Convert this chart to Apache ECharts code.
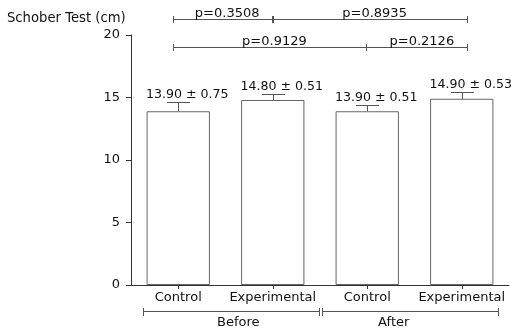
<!DOCTYPE html>
<html><head><meta charset="utf-8">
<script src="https://cdn.jsdelivr.net/npm/echarts@6/dist/echarts.min.js"></script>
<style>html,body{margin:0;padding:0;background:#fff}#c{width:511px;height:328px}</style>
</head><body><div id="c"></div>
<script>
// ---- data ----
const categories = ['Control', 'Experimental', 'Control', 'Experimental'];
const groups = ['Before', 'After'];
const means = [13.90, 14.80, 13.90, 14.90];
const sems = [0.75, 0.51, 0.51, 0.53];
const yTicks = [0, 5, 10, 15, 20];
// comparisons: [fromIndex, toIndex, label]
const pRow1 = [[0, 1, 'p=0.3508'], [1, 3, 'p=0.8935']];
const pRow2 = [[0, 2, 'p=0.9129'], [2, 3, 'p=0.2126']];
const yTitle = 'Schober Test (cm)';

const FONT = 'DejaVu Sans';
const LINE = '#555';
const TXT = '#111';
const px = v => Math.round(v) + 0.5;

const chart = echarts.init(document.getElementById('c'), null, {renderer: 'canvas'});

function errRender(params, api) {
  const i = api.value(0), m = api.value(1), s = api.value(2);
  const base = api.coord([i, m]);
  const top = api.coord([i, m + s]);
  const x = px(base[0]);
  const yb = Math.round(base[1]);
  const yt = px(top[1]);
  const half = api.size([1, 0])[0] * 0.122;
  return {
    type: 'group',
    children: [
      {type: 'line', shape: {x1: x, y1: yb, x2: x, y2: yt}, style: {stroke: LINE, lineWidth: 1}},
      {type: 'line', shape: {x1: Math.round(x - half), y1: yt, x2: Math.round(x + half), y2: yt}, style: {stroke: LINE, lineWidth: 1}},
      {type: 'text', x: base[0] + 9, y: top[1] - 7,
        style: {text: m.toFixed(2) + ' \u00b1 ' + s.toFixed(2), fill: TXT, font: '12.6px "' + FONT + '"',
          textAlign: 'center', textVerticalAlign: 'middle'}}
    ]
  };
}

function bracketRender(params, api) {
  const cs = params.coordSys;
  const band = api.size([1, 0])[0];
  const cx = i => api.coord([i, 0])[0];
  const children = [];
  const hline = (x1, x2, y) => children.push({type: 'line', shape: {x1: Math.round(x1), y1: px(y), x2: Math.round(x2), y2: px(y)}, style: {stroke: LINE, lineWidth: 1}});
  const vtick = (x, y, h) => children.push({type: 'line', shape: {x1: px(x), y1: Math.round(y - h), x2: px(x), y2: Math.round(y + h) + 1}, style: {stroke: LINE, lineWidth: 1}});
  const text = (t, x, y, va) => children.push({type: 'text', x: x, y: y, style: {text: t, fill: TXT, font: '13px "' + FONT + '"', textAlign: 'center', textVerticalAlign: va}});

  // top comparison rows
  const rows = [[pRow1, cs.y - 16], [pRow2, cs.y + 12]];
  rows.forEach(([row, y]) => {
    row.forEach(([a, b, lab], k) => {
      const xa = a === 0 ? cx(a) - band * 0.06 : cx(a) - 1;
      const xb = b === categories.length - 1 ? cx(b) + band * 0.06 : cx(b) - 1;
      hline(xa, xb, y);
      vtick(xa, y, 3);
      vtick(xb, y, 3);
      if (k > 0 && row === pRow1) vtick(xa + 1, y, 3);
      text(lab, (xa + xb) / 2 + 5, y + 1, 'bottom');
    });
  });

  // bottom group brackets
  const yb = cs.y + cs.height + 26;
  const mid = (cx(1) + cx(2)) / 2;
  const b1 = cx(0) - band * 0.375, b2 = mid - 1;
  const a1 = mid + 2, a2 = cx(3) + band * 0.385;
  hline(b1, b2, yb); vtick(b1, yb, 3.5); vtick(b2, yb, 3.5);
  hline(a1, a2, yb); vtick(a1, yb, 3.5); vtick(a2, yb, 3.5);
  text(groups[0], cx(1) - band * 0.365, yb + 5, 'top');
  text(groups[1], cx(2) + band * 0.28, yb + 5, 'top');
  return {type: 'group', children: children};
}

chart.setOption({
  animation: false,
  backgroundColor: '#fff',
  textStyle: {fontFamily: FONT},
  title: {text: yTitle, left: 7, top: 12, padding: 0, textStyle: {fontFamily: FONT, fontSize: 13.2, fontWeight: 'normal', color: TXT}},
  grid: {left: 131, right: 2, top: 35, bottom: 43, containLabel: false},
  xAxis: {
    type: 'category', data: categories,
    axisLine: {show: true, lineStyle: {color: '#333', width: 1}},
    axisTick: {show: true, alignWithLabel: true, length: 4, lineStyle: {color: '#333'}},
    axisLabel: {fontSize: 13, color: TXT, margin: 6, fontFamily: FONT, interval: 0}
  },
  yAxis: {
    type: 'value', min: yTicks[0], max: yTicks[yTicks.length - 1], interval: yTicks[1] - yTicks[0],
    splitLine: {show: false},
    axisLine: {show: true, lineStyle: {color: '#333', width: 1}},
    axisTick: {show: true, length: 5, lineStyle: {color: '#333'}},
    axisLabel: {fontSize: 13, color: TXT, margin: 11, fontFamily: FONT}
  },
  series: [
    {type: 'bar', data: means, barWidth: '67%',
      itemStyle: {color: '#fff', borderColor: '#666', borderWidth: 1}, silent: true},
    {type: 'custom', data: means.map((m, i) => [i, m, sems[i]]), renderItem: errRender, clip: false, z: 3, silent: true},
    {type: 'custom', data: [[0, 0]], renderItem: bracketRender, clip: false, z: 4, silent: true}
  ]
});
</script></body></html>
